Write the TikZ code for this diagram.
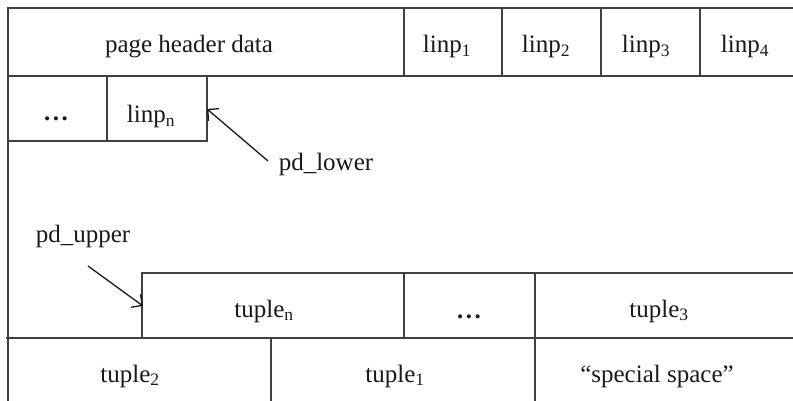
\documentclass[tikz,border=0pt]{standalone}
\usepackage{fontspec}
\setmainfont{Liberation Serif}
\usetikzlibrary{arrows.meta}
\newcommand{\sbs}[1]{\textsubscript{#1}}
\newcommand{\mydots}{\textbf{.\hspace{2.5pt}.\hspace{2.5pt}.}}
\begin{document}
\begin{tikzpicture}[x=1pt,y=-1pt,
  ln/.style={draw=black!75,line width=1.2pt},
  lbl/.style={font=\fontsize{25}{29}\selectfont,text=black!90,inner sep=0pt,anchor=base},
  arr/.style={draw=black!90,line width=1.3pt,-{Straight Barb[length=8pt,width=16pt]}}]
\useasboundingbox (0,0) rectangle (793,401);
% outline lines
\draw[ln] (8,401) -- (8,8) -- (793,8);
\draw[ln] (8,76) -- (793,76);
\foreach \x in {404,502,601,700} \draw[ln] (\x,8) -- (\x,76);
\draw[ln] (8,141) -- (207,141) -- (207,76);
\draw[ln] (107,76) -- (107,141);
\draw[ln] (142,338) -- (142,273) -- (793,273);
\draw[ln] (6,338) -- (793,338);
\draw[ln] (404,273) -- (404,338);
\draw[ln] (535,273) -- (535,401);
\draw[ln] (271,338) -- (271,401);
% texts
\node[lbl] (hdr) at (189,53) {page header data};
\node[lbl] (l1) at (447,53) {linp\sbs{1}};
\node[lbl] (l2) at (546,53) {linp\sbs{2}};
\node[lbl] (l3) at (646,53) {linp\sbs{3}};
\node[lbl] (l4) at (745,53) {linp\sbs{4}};
\node[lbl] (dots1) at (56,121) {\mydots};
\node[lbl] (ln) at (151,123) {linp\sbs{n}};
\node[lbl] (lower) at (326,171) {pd\_lower};
\node[lbl] (upper) at (83,242) {pd\_upper};
\node[lbl] (tn) at (264,317) {tuple\sbs{n}};
\node[lbl] (dots2) at (469,318) {\mydots};
\node[lbl] (t3) at (659,317) {tuple\sbs{3}};
\node[lbl] (t2) at (130,382) {tuple\sbs{2}};
\node[lbl] (t1) at (395,382) {tuple\sbs{1}};
\node[lbl] (sp) at (657,382) {“special space”};
% arrows
\coordinate (lowtip) at (207,109);
\coordinate (uptip) at (143,306);
\coordinate (lowstart) at (268,161);
\coordinate (upstart) at (88,266);
\draw[arr] (lowstart) -- (lowtip);
\draw[arr] (upstart) -- (uptip);
\end{tikzpicture}
\end{document}
